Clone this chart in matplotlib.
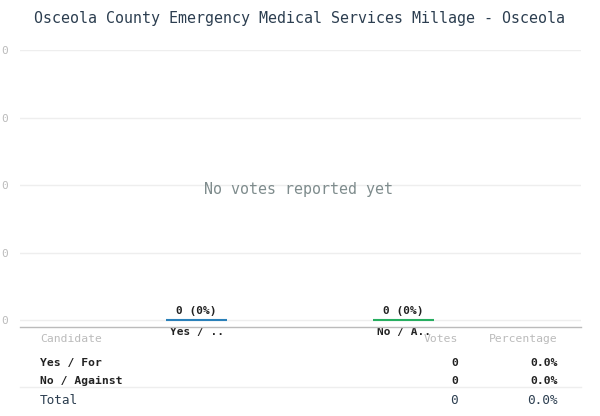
import matplotlib
matplotlib.use('Agg')
import matplotlib.pyplot as plt

# 数据
title = "Osceola County Emergency Medical Services Millage - Osceola"
candidates = ["Yes / For", "No / Against"]
short_labels = ["Yes / ..", "No / A.."]
votes = [0, 0]
bar_colors = ["#2a80b9", "#27ae60"]
y_ticks = [0, 1, 2, 3, 4]
y_tick_labels = ["0", "0", "0", "0", "0"]

total = sum(votes)
pcts = [(v / total * 100) if total else 0.0 for v in votes]

plt.rcParams['font.family'] = ['DejaVu Sans Mono']

W, H = 600, 416
fig = plt.figure(figsize=(W / 100, H / 100), dpi=100)


def fx(px):
    return px / W


def fy(py):
    return 1 - py / H


ax = fig.add_axes([fx(20), fy(327), fx(581) - fx(20), fy(50) - fy(327)])
x = list(range(len(votes)))
ax.bar(x, votes, width=0.295, color=bar_colors, edgecolor=bar_colors, linewidth=1.5)
ax.set_xlim(-0.853, 1.857)
ax.set_ylim(-0.1037, 4)

for t in y_ticks:
    ax.axhline(t, color='#eeeeee', linewidth=1, zorder=0)

ax.set_yticks(y_ticks)
ax.set_yticklabels(y_tick_labels)
ax.set_xticks(x)
ax.set_xticklabels(short_labels, fontsize=8, fontweight='bold', color='#222222')
ax.tick_params(axis='y', length=0, pad=8.5, labelsize=8, labelcolor='#bbbbbb')
ax.tick_params(axis='x', length=0, pad=0)
for s in ['top', 'right', 'left']:
    ax.spines[s].set_visible(False)
ax.spines['bottom'].set_color('#bbbbbb')
ax.spines['bottom'].set_linewidth(1)

# 柱顶标签
for xi, v, p in zip(x, votes, pcts):
    ax.annotate(f"{v} ({p:.0f}%)", (xi, v), xytext=(0, 9), textcoords='offset pixels',
                ha='center', va='center', fontsize=8, fontweight='bold', color='#222222')

fig.text(fx(299), fy(189), "No votes reported yet", ha='center', va='center',
         fontsize=10.8, color='#7f8c8d')

fig.text(fx(300), fy(18), title, ha='center', va='center', fontsize=10.8, color='#2c3e50')

# 表格
fig.text(fx(40), fy(339), "Candidate", ha='left', va='center', fontsize=8.2, color='#bbbbbb')
fig.text(fx(458), fy(339), "Votes", ha='right', va='center', fontsize=8.2, color='#bbbbbb')
fig.text(fx(558), fy(339), "Percentage", ha='right', va='center', fontsize=8.2, color='#bbbbbb')

row_y = [363, 381]
for name, v, p, ry in zip(candidates, votes, pcts, row_y):
    fig.text(fx(40), fy(ry), name, ha='left', va='center', fontsize=8.2,
             fontweight='bold', color='#222222')
    fig.text(fx(458), fy(ry), f"{v}", ha='right', va='center', fontsize=8.2,
             fontweight='bold', color='#222222')
    fig.text(fx(558), fy(ry), f"{p:.1f}%", ha='right', va='center', fontsize=8.2,
             fontweight='bold', color='#222222')

fig.add_artist(plt.Line2D([fx(20), fx(581)], [fy(387), fy(387)], color='#eeeeee', linewidth=1))

fig.text(fx(40), fy(400), "Total", ha='left', va='center', fontsize=9.2, color='#2c3e50')
fig.text(fx(458), fy(400), f"{total}", ha='right', va='center', fontsize=9.2, color='#2c3e50')
fig.text(fx(558), fy(400), f"{(100.0 if total else 0.0):.1f}%", ha='right', va='center',
         fontsize=9.2, color='#2c3e50')

fig.savefig('out.png', dpi=100, facecolor='white')
